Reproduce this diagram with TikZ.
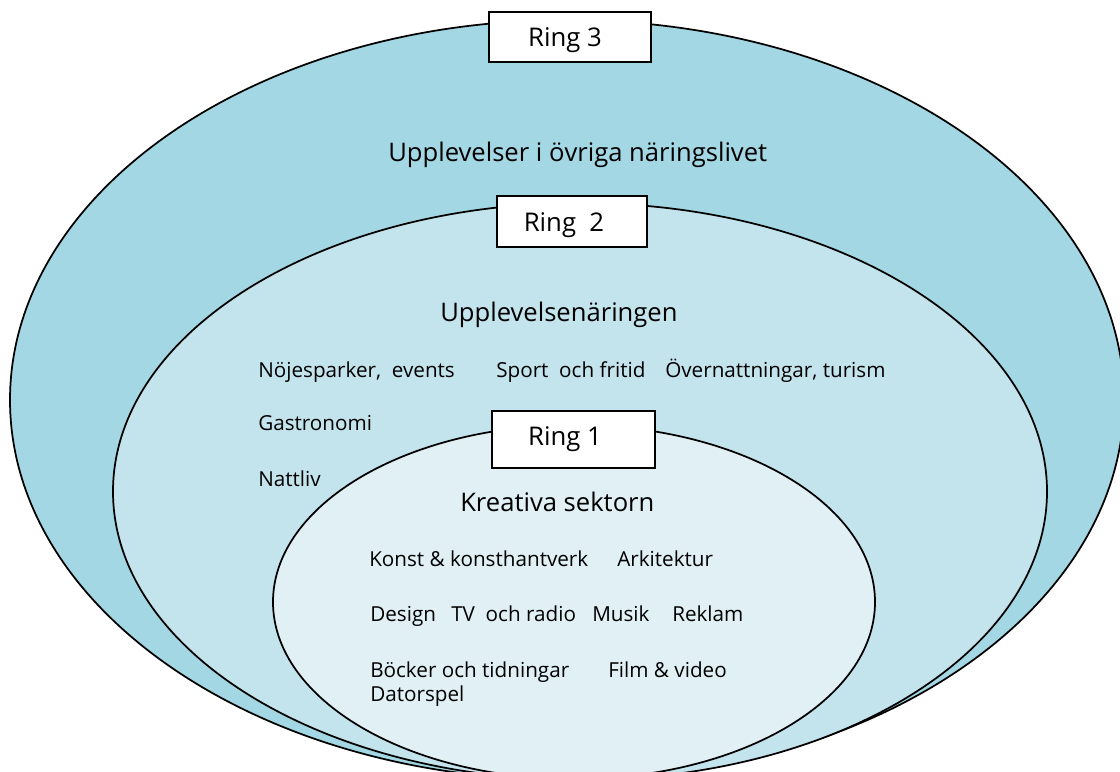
\documentclass[tikz,border=0pt]{standalone}
\usepackage{fontspec}
\setmainfont{Open Sans}
\definecolor{ringthree}{RGB}{162,215,227}
\definecolor{ringtwo}{RGB}{195,227,237}
\definecolor{ringone}{RGB}{224,240,245}
\begin{document}
\begin{tikzpicture}[x=0.75pt,y=-0.75pt,
  ringline/.style={draw=black,line width=1.3pt},
  boxline/.style={draw=black,fill=white,line width=1.2pt},
  ringlabel/.style={font=\fontsize{19.3}{21}\selectfont,anchor=base},
  heading/.style={font=\fontsize{19.2}{21}\selectfont,anchor=base west,inner sep=0pt},
  item/.style={font=\fontsize{15.5}{18}\selectfont,anchor=base west,inner sep=0pt}]
\useasboundingbox (0,0) rectangle (1120,771);
\clip (0,0) rectangle (1120,771);
% rings
\path[ringline,fill=ringthree] (567,400) ellipse [x radius=557, y radius=380];
\path[ringline,fill=ringtwo] (580,491.5) ellipse [x radius=467, y radius=288.5];
\path[ringline,fill=ringone] (574,602) ellipse [x radius=301, y radius=177];
% ring boxes
\path[boxline] (489,12) rectangle (651,62);
\node[ringlabel] (r3) at (565,46) {Ring 3};
\path[boxline] (497,196) rectangle (647,247);
\node[ringlabel] (r2) at (564,231) {Ring\ \ 2};
\path[boxline] (492,411) rectangle (655,468);
\node[ringlabel] (r1) at (565,445) {Ring 1};
% ring 3 text
\node[heading] (h3) at (388,161) {Upplevelser i övriga näringslivet};
% ring 2 text
\node[heading] (h2) at (440,321) {Upplevelsenäringen};
\node[item] (t1) at (258,377) {Nöjesparker,\ \ events};
\node[item] (t2) at (496,377) {Sport\ \ och fritid};
\node[item] (t3) at (665,377) {Övernattningar, turism};
\node[item] (t4) at (258,430) {Gastronomi};
\node[item] (t5) at (258,486) {Nattliv};
% ring 1 text
\node[heading] (h1) at (460,511) {Kreativa sektorn};
\node[item] (k1) at (369,566) {Konst \& konsthantverk};
\node[item] (k2) at (617,566) {Arkitektur};
\node[item] (k3) at (370,621) {Design};
\node[item] (k4) at (451,621) {TV\ \ och radio};
\node[item] (k5) at (592,621) {Musik};
\node[item] (k6) at (672,621) {Reklam};
\node[item] (k7) at (370,677) {Böcker och tidningar};
\node[item] (k8) at (608,677) {Film \& video};
\node[item] (k9) at (370,701) {Datorspel};
\end{tikzpicture}
\end{document}
